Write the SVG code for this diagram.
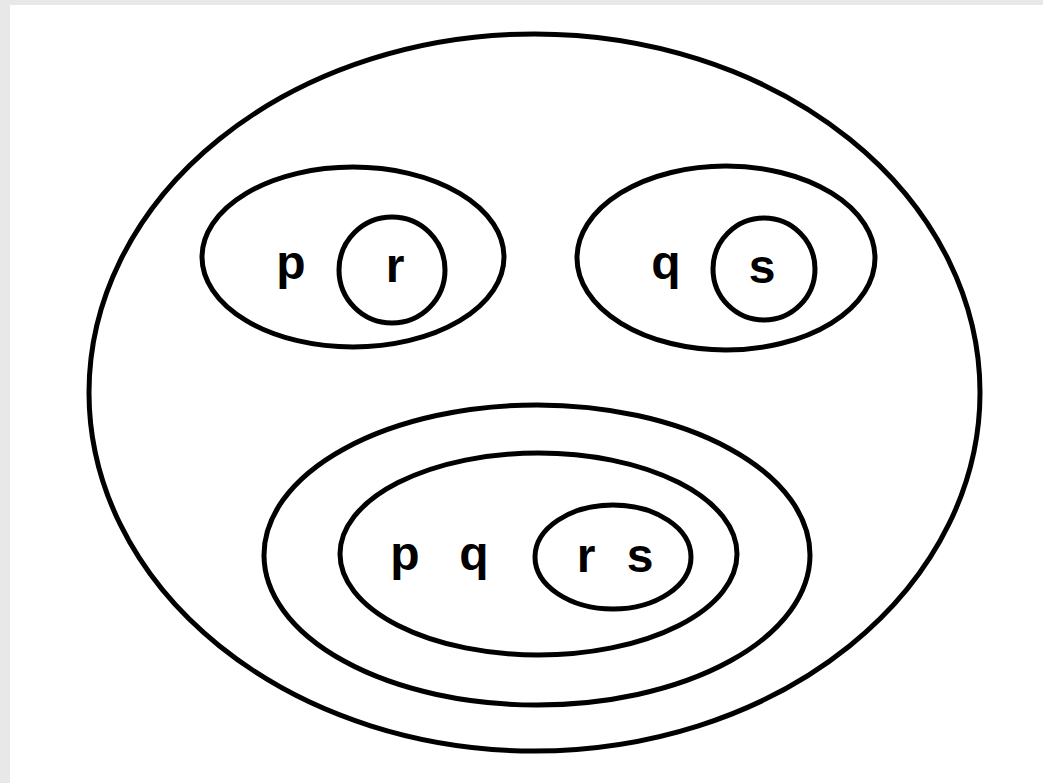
<svg xmlns="http://www.w3.org/2000/svg" width="1043" height="783" viewBox="0 0 1043 783">
<style>
.e{fill:none;stroke:#000;stroke-width:5}
.t{font-family:"Liberation Sans",Arial,sans-serif;font-weight:bold;font-size:48px;fill:#000;text-anchor:middle}
</style>
<rect x="0" y="0" width="1043" height="783" fill="#e8e8e8"/>
<rect x="10" y="5" width="1033" height="778" fill="#fff"/>
<g id="universe"><ellipse class="e" cx="534.5" cy="392.5" rx="445.5" ry="358.5"/></g>
<g id="set-p">
<ellipse class="e" cx="353" cy="257" rx="151" ry="90"/>
<text class="t" x="291" y="279">p</text>
</g>
<g id="set-r">
<circle class="e" cx="392" cy="270" r="53"/>
<text class="t" x="395" y="282">r</text>
</g>
<g id="set-q">
<ellipse class="e" cx="726" cy="258" rx="149" ry="92"/>
<text class="t" x="666" y="279">q</text>
</g>
<g id="set-s">
<circle class="e" cx="764" cy="269" r="51"/>
<text class="t" x="762" y="283">s</text>
</g>
<g id="set-bottom-outer"><ellipse class="e" cx="537" cy="555" rx="273" ry="150"/></g>
<g id="set-pq">
<ellipse class="e" cx="538.5" cy="554" rx="198.5" ry="101"/>
<text class="t" x="405" y="570">p</text>
<text class="t" x="474" y="570">q</text>
</g>
<g id="set-rs">
<ellipse class="e" cx="613" cy="557" rx="78" ry="52"/>
<text class="t" x="586" y="572">r</text>
<text class="t" x="640" y="572">s</text>
</g>
<g id="connectors"/>
</svg>
